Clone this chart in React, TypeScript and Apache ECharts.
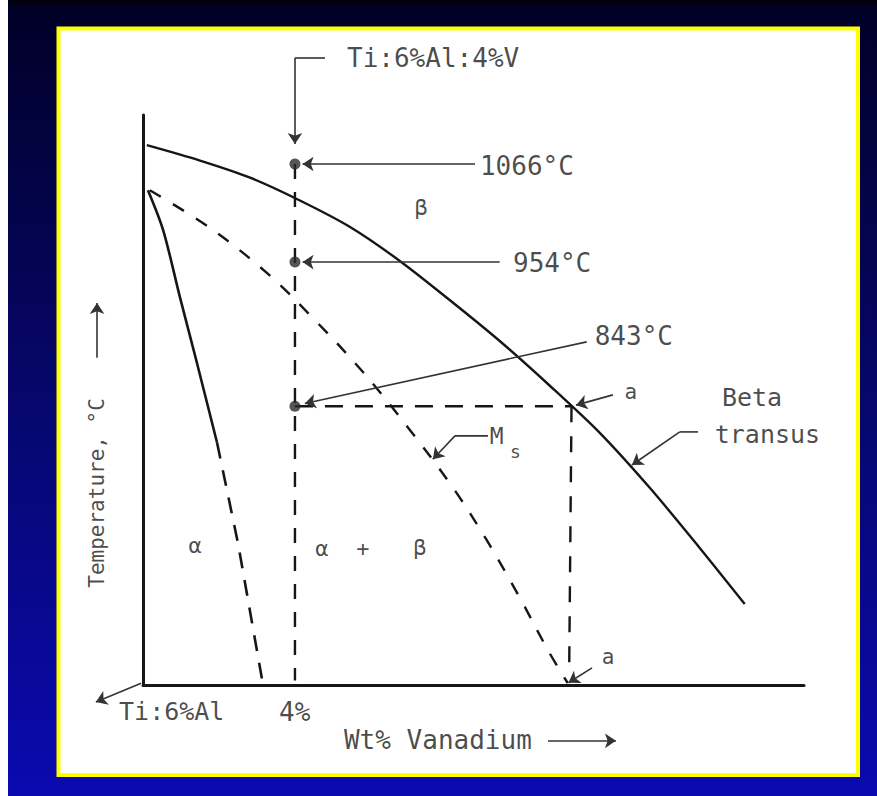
import React, { useEffect, useRef } from "react";
import * as echarts from "echarts";

// ---- diagram data (x: wt% vanadium, y: relative temperature height 0..100) ----
const X_MAX = 17.4;
const Y_MAX = 100;

const betaTransus = [
  [0.1, 94.7], [1.5, 92.0], [2.82, 89.0], [4.13, 85.0], [5.45, 80.35], [6.76, 74.4],
  [8.08, 67.5], [9.39, 60.35], [10.71, 52.5], [12.03, 44.2], [13.34, 34.6], [14.66, 24.0],
  [15.84, 14.2],
];
const alphaSolvusSolid = [[0.13, 86.8], [0.53, 79.8], [0.97, 68.1], [1.42, 56.5], [1.95, 42.5]];
const alphaSolvusDashed = [[1.95, 42.5], [2.5, 24.9], [3.16, 0]];
const msCurve = [
  [0.18, 86.8], [1.76, 80.2], [3.26, 72.3], [4.47, 64.4], [5.79, 54.9], [7.03, 44.7],
  [8.16, 34.6], [9.05, 25.4], [9.92, 15.3], [10.66, 6.1], [11.18, 0.35],
];
const alloyLine = [[4, 91.4], [4, 0.8]];
const isothermLine = [[4, 48.9], [11.28, 48.9]];
const pointALine = [[11.28, 48.9], [11.22, 3.5]];
const tempPoints = [[4, 91.4], [4, 74.2], [4, 48.9]];
const tempLabels = ["1066°C", "954°C", "843°C"];

// ---- leader arrows (arrow head at last point) ----
const leaders = [
  [[4.79, 110], [4, 110], [4, 94.9]],
  [[8.74, 91.4], [4.2, 91.4]],
  [[9.39, 74.2], [4.2, 74.2]],
  [[11.68, 60.2], [4.26, 49.4]],
  [[12.37, 50.9], [11.4, 49.1]],
  [[14.61, 44.4], [14.13, 44.4], [12.87, 38.6]],
  [[9.08, 43.7], [8.21, 43.7], [7.63, 39.6]],
  [[11.82, 3.0], [11.2, 0.4]],
  [[-0.05, 0.3], [-1.24, -3.0]],
  [[-1.21, 57.4], [-1.21, 67.0]],
  [[10.66, -9.8], [12.45, -9.8]],
];

// ---- text annotations ----
const annotations = [
  { text: "Ti:6%Al:4%V", at: [5.37, 110], size: 26, align: "left" },
  { text: tempLabels[0], at: [8.87, 91.0], size: 26, align: "left" },
  { text: tempLabels[1], at: [9.74, 74.0], size: 26, align: "left" },
  { text: tempLabels[2], at: [11.89, 61.2], size: 26, align: "left" },
  { text: "β", at: [7.32, 83.7], size: 22, align: "center" },
  { text: "a", at: [12.84, 51.4], size: 21, align: "center" },
  { text: "Beta", at: [15.24, 50.5], size: 25, align: "left" },
  { text: "transus", at: [15.05, 44.0], size: 25, align: "left" },
  { text: "M", at: [9.13, 43.7], size: 23, align: "left" },
  { text: "s", at: [9.66, 40.9], size: 18, align: "left" },
  { text: "α", at: [1.37, 24.4], size: 22, align: "center" },
  { text: "α", at: [4.71, 24.0], size: 22, align: "center" },
  { text: "+", at: [5.79, 24.0], size: 22, align: "center" },
  { text: "β", at: [7.29, 24.2], size: 22, align: "center" },
  { text: "a", at: [12.24, 4.9], size: 21, align: "center" },
  { text: "Ti:6%Al", at: [-0.63, -4.7], size: 25, align: "left" },
  { text: "4%", at: [3.58, -4.7], size: 26, align: "left" },
  { text: "Wt% Vanadium", at: [5.29, -9.6], size: 26, align: "left" },
  { text: "Temperature, °C", at: [-1.21, 33.7], size: 21, align: "center", rotate: 90 },
];

const FONT = "'DejaVu Sans Mono', monospace";
const INK = "#161616";

export default function App() {
  const ref = useRef<HTMLDivElement>(null);

  useEffect(() => {
    document.body.style.margin = "0";
    const chart = echarts.init(ref.current!, null, { renderer: "svg" });

    const curve = (data: number[][], type: any, width: number, smooth: number) => ({
      type: "line",
      data,
      smooth,
      symbol: "none",
      showSymbol: false,
      clip: false,
      silent: true,
      z: 3,
      lineStyle: { color: INK, width, type },
    });

    // split each leader into an un-arrowed lead-in and an arrowed final segment
    const leadIns = leaders.filter((c) => c.length > 2).map((c) => ({ coords: c.slice(0, -1) }));
    const heads = leaders.map((c) => ({ coords: c.slice(-2) }));
    const leaderStyle = { color: "#333", width: 1.6, opacity: 1, curveness: 0 };

    chart.setOption({
      animation: false,
      graphic: [
        { type: "rect", z: -5, shape: { x: 0, y: 0, width: 877, height: 796 }, style: { fill: "#ffffff" } },
        {
          type: "rect",
          z: -4,
          shape: { x: 8, y: 0, width: 869, height: 796 },
          style: {
            fill: {
              type: "linear", x: 0, y: 0, x2: 0, y2: 1,
              colorStops: [
                { offset: 0, color: "#000026" },
                { offset: 0.5, color: "#06066c" },
                { offset: 1, color: "#0a0ab0" },
              ],
            },
          },
        },
        { type: "rect", z: -4, shape: { x: 8, y: 0, width: 869, height: 5 }, style: { fill: "#000010" } },
        {
          type: "rect",
          z: -3,
          shape: { x: 58.5, y: 28.5, width: 799.5, height: 746.5 },
          style: { fill: "#ffffff", stroke: "#ffff00", lineWidth: 4 },
        },
      ],
      grid: { left: 143, right: 73, top: 115, bottom: 111, containLabel: false },
      xAxis: {
        type: "value", min: 0, max: X_MAX, z: 4,
        axisLine: { show: true, onZero: false, lineStyle: { color: INK, width: 3 } },
        axisTick: { show: false }, axisLabel: { show: false }, splitLine: { show: false },
      },
      yAxis: {
        type: "value", min: 0, max: Y_MAX, z: 4,
        axisLine: { show: true, onZero: false, lineStyle: { color: INK, width: 3 } },
        axisTick: { show: false }, axisLabel: { show: false }, splitLine: { show: false },
      },
      series: [
        curve(betaTransus, "solid", 2.4, 0.3),
        curve(alphaSolvusSolid, "solid", 2.6, 0.3),
        curve(alphaSolvusDashed, [16, 12], 2.6, 0),
        curve(msCurve, [13, 14], 2.4, 0.35),
        curve(alloyLine, [15, 13], 2.4, 0),
        curve(isothermLine, [18, 12], 2.4, 0),
        curve(pointALine, [16, 14], 2.4, 0),
        {
          type: "lines",
          coordinateSystem: "cartesian2d",
          polyline: true,
          clip: false,
          silent: true,
          z: 4,
          symbol: "none",
          lineStyle: leaderStyle,
          data: leadIns,
        },
        {
          type: "lines",
          coordinateSystem: "cartesian2d",
          clip: false,
          silent: true,
          z: 4,
          symbol: ["none", "arrow"],
          symbolSize: 11,
          lineStyle: leaderStyle,
          data: heads,
        },
        {
          type: "scatter",
          data: tempPoints,
          symbol: "circle",
          symbolSize: 11,
          clip: false,
          silent: true,
          z: 6,
          itemStyle: { color: "#2a2a2a" },
        },
        {
          type: "scatter",
          symbolSize: 1,
          clip: false,
          silent: true,
          z: 7,
          itemStyle: { color: "rgba(0,0,0,0)" },
          data: annotations.map((a) => ({
            value: a.at,
            label: {
              show: true,
              position: "inside",
              formatter: a.text,
              fontSize: a.size,
              fontFamily: FONT,
              color: "#1c1c1c",
              align: a.align,
              verticalAlign: "middle",
              rotate: (a as any).rotate || 0,
            },
          })),
        },
      ],
    });

    return () => chart.dispose();
  }, []);

  return <div ref={ref} style={{ width: 877, height: 796 }} />;
}
